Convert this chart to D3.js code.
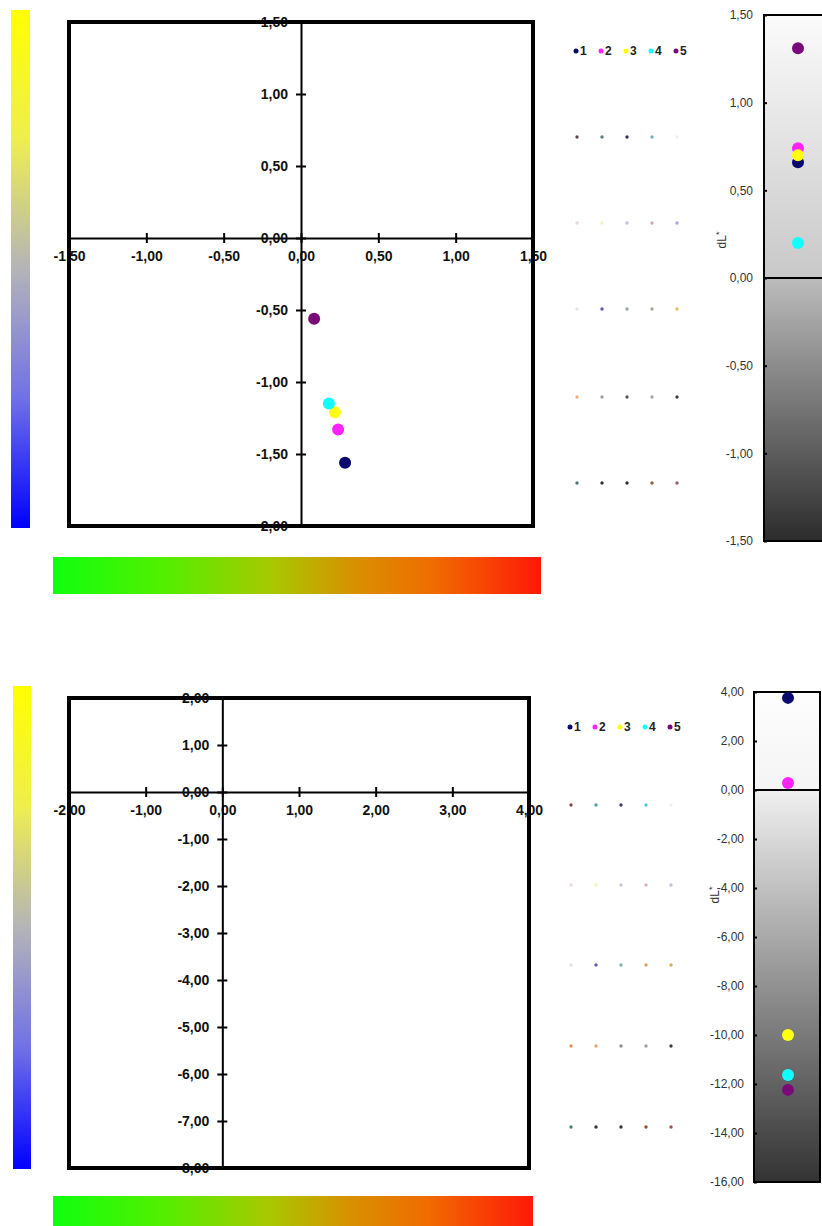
<!DOCTYPE html>
<html>
<head>
<meta charset="utf-8">
<script src="https://cdn.jsdelivr.net/npm/d3@7"></script>
<style>
body{margin:0;background:#fff;}
svg{display:block;font-family:"Liberation Sans",Arial,sans-serif;}
.ab text{font-weight:bold;font-size:14px;fill:#111;}
.dl text{font-size:12px;fill:#333;}
.legend text{font-weight:bold;font-size:12px;fill:#222;}
</style>
</head>
<body>
<svg id="chart" width="822" height="1226"></svg>
<script>
/* globals d3 */

// series 1..5
var seriesNames = ["1", "2", "3", "4", "5"];
var seriesColors = ["#0a0a6e", "#ff22ff", "#ffff10", "#10ffff", "#7a0a7a"];

// first sample: da*, db*, dL*
var topDa = [0.285, 0.24, 0.22, 0.18, 0.085];
var topDb = [-1.56, -1.33, -1.21, -1.15, -0.56];
var topDL = [0.66, 0.74, 0.70, 0.20, 1.31];

// second sample: only dL* is inside the plotted range
var botDL = [3.76, 0.29, -10.0, -11.63, -12.24];

var topXTicks = [-1.5, -1, -0.5, 0, 0.5, 1, 1.5];
var topYTicks = [-2, -1.5, -1, -0.5, 0, 0.5, 1, 1.5];
var topLTicks = [-1.5, -1, -0.5, 0, 0.5, 1, 1.5];
var botXTicks = [-2, -1, 0, 1, 2, 3, 4];
var botYTicks = [-8, -7, -6, -5, -4, -3, -2, -1, 0, 1, 2];
var botLTicks = [-16, -14, -12, -10, -8, -6, -4, -2, 0, 2, 4];

// little swatch dots next to the legend (rows x 5 columns)
var swatchTop = [
    ["#5a4848", "#5e7e7e", "#2e2e6e", "#6ab4b8", "#eef0f4"],
    ["#e6d8d8", "#f4f0c8", "#c0c0dc", "#d8a8a8", "#a8a8d4"],
    ["#e4e4e4", "#5c5ca8", "#98a8a8", "#a8a890", "#e0c070"],
    ["#e8b080", "#a0a0a0", "#585858", "#a8a8a8", "#404040"],
    ["#507272", "#303038", "#303030", "#8a6048", "#986078"]
];
var swatchBot = [
    ["#8a4848", "#50a0a0", "#3c3c80", "#50c8d8", "#f0f0f4"],
    ["#eedada", "#f6f0c0", "#c8c8d8", "#e0b0b8", "#c0c0e0"],
    ["#e0e0e0", "#6060b0", "#80b0b0", "#e0a060", "#e0b050"],
    ["#e89050", "#e0a070", "#909090", "#a0a0a0", "#404040"],
    ["#508080", "#303040", "#383030", "#905030", "#a05050"]
];

var locale = d3.formatLocale({decimal: ",", thousands: ".", grouping: [3], currency: ["", ""], minus: "-"});
var fmt = locale.format(".2f");

var svg = d3.select("#chart");
var defs = svg.append("defs");

// yellow-grey-blue (db*) and green-red (da*) colour bars
var gv = defs.append("linearGradient").attr("id", "gradB")
    .attr("x1", 0).attr("y1", 0).attr("x2", 0).attr("y2", 1);
gv.selectAll("stop").data([[0, "#ffff00"], [0.25, "#eeee50"], [0.5, "#b4b4b8"], [0.75, "#7070e8"], [1, "#0000ff"]])
    .enter().append("stop").attr("offset", function(d){return d[0];}).attr("stop-color", function(d){return d[1];});
var gh = defs.append("linearGradient").attr("id", "gradA");
gh.selectAll("stop").data([[0, "#10ff10"], [0.22, "#50f000"], [0.45, "#a8c800"], [0.62, "#d89000"], [0.78, "#f06c00"], [1, "#ff1808"]])
    .enter().append("stop").attr("offset", function(d){return d[0];}).attr("stop-color", function(d){return d[1];});

function drawPanel(p) {
    // colour bars
    svg.append("rect").attr("x", p.bar[0]).attr("y", p.bar[1]).attr("width", p.bar[2]).attr("height", p.bar[3])
        .attr("fill", "url(#gradB)");
    svg.append("rect").attr("x", p.hbar[0]).attr("y", p.hbar[1]).attr("width", p.hbar[2]).attr("height", p.hbar[3])
        .attr("fill", "url(#gradA)");

    // da* / db* plot
    var x = d3.scaleLinear().domain(p.xDomain).range([p.frame[0], p.frame[1]]);
    var y = d3.scaleLinear().domain(p.yDomain).range([p.frame[3], p.frame[2]]);
    var g = svg.append("g").attr("class", "ab");

    var xa = g.append("g").attr("transform", "translate(0," + y(0) + ")")
        .call(d3.axisBottom(x).tickValues(p.xTicks).tickFormat(fmt).tickSizeInner(5).tickSizeOuter(0).tickPadding(8));
    var ya = g.append("g").attr("transform", "translate(" + x(0) + ",0)")
        .call(d3.axisLeft(y).tickValues(p.yTicks).tickFormat(fmt).tickSizeInner(5).tickSizeOuter(0).tickPadding(8));
    xa.selectAll(".tick line").attr("y1", -5).attr("stroke-width", 2);
    ya.selectAll(".tick line").attr("x1", 5).attr("stroke-width", 2);
    g.selectAll(".domain").attr("stroke", "#000").attr("stroke-width", 2);
    g.selectAll(".tick text").attr("fill", "#111");
    g.selectAll("text").attr("font-family", null).attr("font-size", null);

    g.selectAll("circle.pt").data(p.da.map(function(d, i){return [d, p.db[i], i];}))
        .enter().append("circle").attr("class", "pt")
        .attr("cx", function(d){return x(d[0]);}).attr("cy", function(d){return y(d[1]);})
        .attr("r", 6).attr("fill", function(d){return seriesColors[d[2]];});

    svg.append("rect").attr("x", p.frame[0]).attr("y", p.frame[2])
        .attr("width", p.frame[1] - p.frame[0]).attr("height", p.frame[3] - p.frame[2])
        .attr("fill", "none").attr("stroke", "#000").attr("stroke-width", 4);

    // legend
    var lg = svg.append("g").attr("class", "legend");
    var li = lg.selectAll("g").data(seriesNames).enter().append("g")
        .attr("transform", function(d, i){return "translate(" + (p.legend[0] + 25 * i) + "," + p.legend[1] + ")";});
    li.append("circle").attr("r", 2.5).attr("fill", function(d, i){return seriesColors[i];});
    li.append("text").attr("x", 4).attr("dy", "0.36em").text(function(d){return d;});

    // swatch grid
    p.swatch.forEach(function(row, r) {
        svg.selectAll(null).data(row).enter().append("circle")
            .attr("cx", function(d, c){return p.swX + 25 * c;})
            .attr("cy", p.swY[r]).attr("r", 1.7).attr("fill", function(d){return d;});
    });

    // dL* panel
    var gid = "gradL" + p.id;
    var yl = d3.scaleLinear().domain(p.lDomain).range([p.lFrame[3], p.lFrame[2]]);
    var z = (yl(0) - p.lFrame[2]) / (p.lFrame[3] - p.lFrame[2]);
    var gl = defs.append("linearGradient").attr("id", gid).attr("x1", 0).attr("y1", 0).attr("x2", 0).attr("y2", 1);
    gl.selectAll("stop").data([[0, p.shade[0]], [z, p.shade[1]], [z, p.shade[2]], [1, p.shade[3]]])
        .enter().append("stop").attr("offset", function(d){return d[0];}).attr("stop-color", function(d){return d[1];});

    var dg = svg.append("g").attr("class", "dl");
    dg.append("rect").attr("x", p.lFrame[0]).attr("y", p.lFrame[2])
        .attr("width", p.lFrame[1] - p.lFrame[0]).attr("height", p.lFrame[3] - p.lFrame[2])
        .attr("fill", "url(#" + gid + ")");
    var la = dg.append("g").attr("transform", "translate(" + p.lFrame[0] + ",0)")
        .call(d3.axisLeft(yl).tickValues(p.lTicks).tickFormat(fmt).tickSizeInner(-3).tickSizeOuter(0).tickPadding(p.lPad));
    la.select(".domain").remove();
    la.selectAll(".tick line").attr("stroke-width", 2);
    la.selectAll("text").attr("font-family", null).attr("font-size", null).attr("fill", "#333");
    dg.append("line").attr("x1", p.lFrame[0]).attr("x2", p.lFrame[1])
        .attr("y1", yl(0)).attr("y2", yl(0)).attr("stroke", "#000").attr("stroke-width", 2);
    dg.append("rect").attr("x", p.lFrame[0]).attr("y", p.lFrame[2])
        .attr("width", p.lFrame[1] - p.lFrame[0]).attr("height", p.lFrame[3] - p.lFrame[2])
        .attr("fill", "none").attr("stroke", "#000").attr("stroke-width", 2);
    dg.selectAll("circle").data(p.dL).enter().append("circle")
        .attr("cx", p.lcx).attr("cy", function(d){return yl(d);})
        .attr("r", 6).attr("fill", function(d, i){return seriesColors[i];});

    var t = dg.append("text").attr("transform", "translate(" + p.lLabel[0] + "," + p.lLabel[1] + ") rotate(-90)")
        .attr("text-anchor", "middle").attr("dy", "0.35em");
    t.append("tspan").text("dL");
    t.append("tspan").attr("font-size", "9px").attr("dy", "-0.5em").text("*");
}

drawPanel({
    id: "top",
    bar: [11, 10, 19, 518], hbar: [53, 557, 488, 37],
    frame: [69, 533, 22, 526], xDomain: [-1.5, 1.5], yDomain: [-2, 1.5],
    xTicks: topXTicks, yTicks: topYTicks, da: topDa, db: topDb,
    legend: [576, 51], swatch: swatchTop, swX: 577, swY: [137, 223, 309, 397, 483],
    lFrame: [764, 832, 15, 541], lDomain: [-1.5, 1.5], lTicks: topLTicks, lPad: 11,
    shade: ["#fbfbfb", "#c8c8c8", "#bcbcbc", "#2c2c2c"], dL: topDL, lcx: 798, lLabel: [722, 240]
});

drawPanel({
    id: "bot",
    bar: [13, 686, 18, 483], hbar: [53, 1196, 480, 35],
    frame: [69, 529, 698, 1168], xDomain: [-2, 4], yDomain: [-8, 2],
    xTicks: botXTicks, yTicks: botYTicks, da: [], db: [],
    legend: [570, 727], swatch: swatchBot, swX: 571, swY: [805, 885, 965, 1046, 1127],
    lFrame: [754, 820, 692, 1182], lDomain: [-16, 4], lTicks: botLTicks, lPad: 10,
    shade: ["#fdfdfd", "#f4f4f4", "#f0f0f0", "#333333"], dL: botDL, lcx: 788, lLabel: [715, 895]
});
</script>
</body>
</html>
